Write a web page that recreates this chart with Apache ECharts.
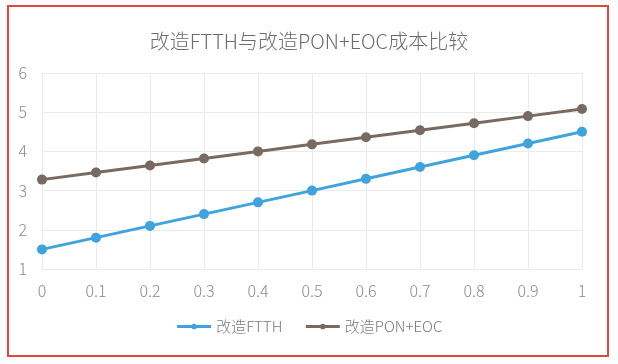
<!DOCTYPE html>
<html><head><meta charset="utf-8">
<script src="https://cdn.jsdelivr.net/npm/echarts@6/dist/echarts.min.js"></script>
<style>html,body{margin:0;padding:0;background:#f9fdff;}#wrap{position:absolute;left:7px;top:5px;width:598px;height:348px;border:2px solid #e0483c;background:#fff;}#c{position:absolute;left:0;top:0;width:618px;height:364px;}</style>
</head><body>
<div id="wrap"></div>
<div id="c"></div>
<script>
const categories = ['0','0.1','0.2','0.3','0.4','0.5','0.6','0.7','0.8','0.9','1'];
const ftth = [1.5,1.8,2.1,2.4,2.7,3.0,3.3,3.6,3.9,4.2,4.5];
const ponEoc = [3.28,3.46,3.64,3.82,4.0,4.18,4.36,4.54,4.72,4.9,5.08];
const chart = echarts.init(document.getElementById('c'), null, {renderer:'canvas'});
const font = '"Microsoft YaHei","Noto Sans CJK SC",sans-serif';
chart.setOption({
  backgroundColor: 'transparent',
  animation: false,
  title: {text:'改造FTTH与改造PON+EOC成本比较', left:'center', top:26, textStyle:{fontFamily:font, fontSize:20, fontWeight:300, color:'#6b6b6b'}},
  legend: {bottom:25, itemWidth:34, itemHeight:7, itemGap:22, lineStyle:{width:3}, textStyle:{fontFamily:font, fontSize:15, fontWeight:300, color:'#7a7a7a'}, data:['改造FTTH','改造PON+EOC']},
  grid: {left:42, right:36, top:73, bottom:95},
  xAxis: {type:'category', data:categories, boundaryGap:false,
    axisLine:{show:false}, axisTick:{show:false},
    axisLabel:{fontFamily:font, fontSize:16, fontWeight:300, color:'#8a8a8a', margin:14},
    splitLine:{show:true, lineStyle:{color:'#ebebeb'}}},
  yAxis: {type:'value', min:1, max:6, interval:1,
    axisLine:{show:false}, axisTick:{show:false},
    axisLabel:{fontFamily:font, fontSize:16, fontWeight:300, color:'#8a8a8a', margin:15},
    splitLine:{lineStyle:{color:'#ebebeb'}}},
  series: [
    {name:'改造FTTH', type:'line', data:ftth, symbol:'circle', symbolSize:10, lineStyle:{width:3, color:'#3fa3dd'}, itemStyle:{color:'#3fa3dd'}},
    {name:'改造PON+EOC', type:'line', data:ponEoc, symbol:'circle', symbolSize:10, lineStyle:{width:3, color:'#786a61'}, itemStyle:{color:'#786a61'}}
  ]
});
</script>
</body></html>
